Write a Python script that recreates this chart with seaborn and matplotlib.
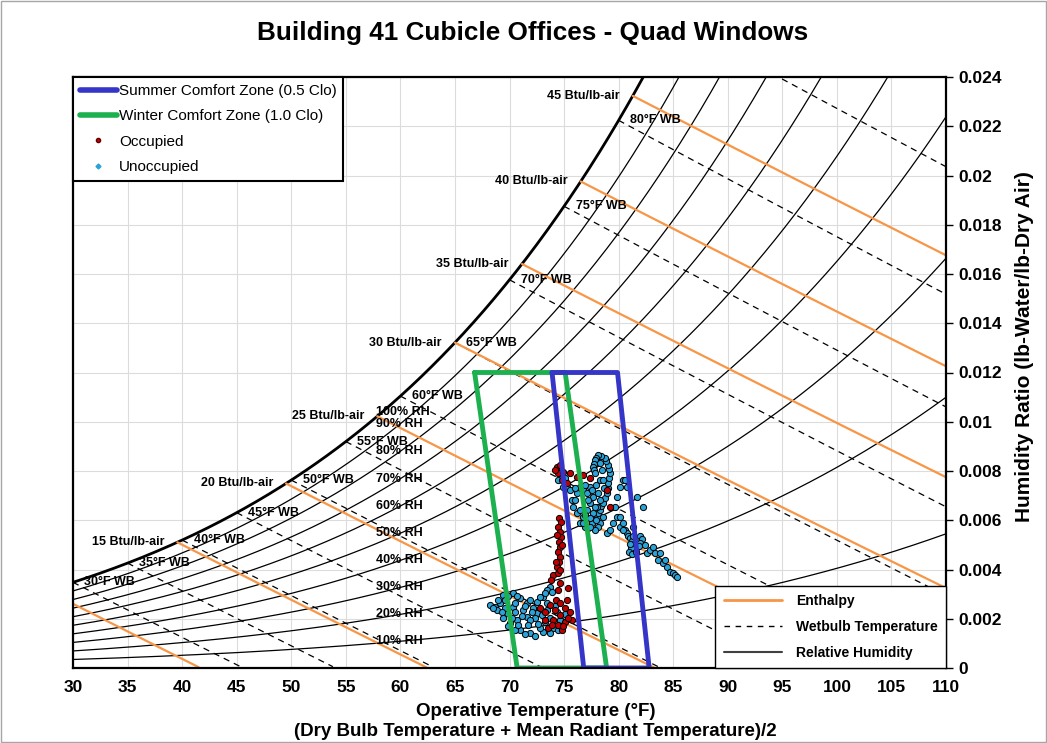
import numpy as np
import pandas as pd
import matplotlib
matplotlib.use("Agg")
import matplotlib.pyplot as plt
import seaborn as sns
from matplotlib.lines import Line2D
from matplotlib.patches import Rectangle
from matplotlib.ticker import FuncFormatter, MultipleLocator

# Psychrometric line levels
rh_levels = [10, 20, 30, 40, 50, 60, 70, 80, 90, 100]
wb_levels = [30, 35, 40, 45, 50, 55, 60, 65, 70, 75, 80, 85]
wb_labelled = [30, 35, 40, 45, 50, 55, 60, 65, 70, 75, 80]
enthalpy_levels = [10, 15, 20, 25, 30, 35, 40, 45]
enthalpy_labelled = [15, 20, 25, 30, 35, 40, 45]

# Comfort zones (operative temp F, humidity ratio)
summer_t = [73.9, 79.9, 82.8, 76.8, 73.9]
summer_w = [0.012, 0.012, 0.0, 0.0, 0.012]
winter_t = [66.8, 75.1, 78.9, 70.7, 66.8]
winter_w = [0.012, 0.012, 0.0, 0.0, 0.012]

occupied_t = [72.80, 73.26, 73.71, 74.17, 74.63, 75.09, 75.54, 73.99, 74.45, 73.53,
              75.09, 75.73, 74.81, 74.26, 74.63, 75.27, 73.26, 73.90, 75.36, 74.90,
              73.99, 74.45, 74.63, 74.45, 75.36, 73.80,
              74.54, 74.72, 74.45, 74.63, 74.72, 74.54, 74.63, 74.45, 74.63, 74.54,
              74.35, 74.63, 74.26, 74.81, 74.35,
              74.35, 74.63, 74.45, 74.90, 75.54, 76.19, 76.74, 77.38, 74.81, 75.27,
              78.93, 79.21, 74.17]
occupied_w = [0.00244, 0.00227, 0.00256, 0.00236, 0.00215, 0.00244, 0.00227, 0.00195, 0.00175, 0.00162,
              0.00187, 0.00195, 0.00154, 0.00276, 0.00264, 0.00276, 0.00195, 0.00175, 0.00203, 0.00171,
              0.00378, 0.00386, 0.00345, 0.00317, 0.00325, 0.00357,
              0.00609, 0.00593, 0.00573, 0.00552, 0.00532, 0.00512, 0.00491, 0.00471, 0.00451, 0.00430,
              0.00410, 0.00398, 0.00430, 0.00500, 0.00540,
              0.00816, 0.00824, 0.00792, 0.00796, 0.00792, 0.00776, 0.00784, 0.00772, 0.00763, 0.00751,
              0.00723, 0.00654, 0.00804]

unoccupied_t = [68.67, 69.40, 70.32, 70.96, 71.60, 72.52, 73.07, 73.71, 73.44, 69.77,
                70.05, 70.96, 71.88, 73.07, 73.99, 70.69, 71.60, 72.52, 73.44, 74.35,
                69.13, 68.86, 70.32, 71.24, 72.15, 69.59, 70.50, 71.42, 72.34, 73.26,
                72.80, 74.63, 75.09, 71.88, 69.40,
                68.95, 69.86, 70.69, 71.88, 72.80, 73.26, 73.90, 69.59, 70.50, 71.15,
                70.23, 69.86, 70.50, 71.42, 72.34, 73.71, 74.45, 72.62, 71.70, 70.78,
                73.71, 72.98, 72.06, 68.21, 68.49, 69.31, 73.44, 74.17,
                78.02, 78.11, 78.29, 78.38, 78.57, 78.75, 78.93, 79.03, 79.03, 79.12,
                79.21, 79.12, 79.03, 78.84, 78.75, 78.38, 78.11, 77.93, 77.84, 77.74,
                77.65, 77.74, 77.84, 78.29, 78.11, 77.84, 78.57,
                80.58, 80.77, 80.86, 81.04, 81.22, 81.41, 81.59, 81.78, 81.96, 82.14,
                81.96, 81.68, 81.41, 81.13, 80.95, 81.22, 81.59, 81.04, 81.31, 81.87,
                82.60, 82.87, 83.15, 83.33, 83.61, 83.79, 84.07, 84.25, 84.43, 84.71,
                84.98, 85.17, 85.35, 82.42,
                78.93, 79.21, 79.48, 79.85, 80.13, 80.40, 80.13, 80.40, 79.67, 79.85,
                80.13, 80.40, 80.58, 80.77, 82.23, 81.68, 81.31,
                74.63, 74.90, 75.27, 75.54, 76.19, 76.46, 76.74, 77.10, 77.38, 77.65,
                77.38, 77.10, 76.74, 76.46, 76.92, 75.82, 76.19, 75.73, 78.11, 78.29,
                78.02, 77.65, 77.56, 77.19, 77.84, 76.46, 76.74, 77.38, 74.45, 75.09,
                76.00, 76.92, 77.56, 77.93, 78.29, 78.48, 78.29, 76.00, 77.19, 76.92,
                77.93, 77.38, 78.66, 78.57]
unoccupied_w = [0.00248, 0.00296, 0.00305, 0.00284, 0.00264, 0.00268, 0.00288, 0.00329, 0.00317, 0.00223,
                0.00183, 0.00154, 0.00142, 0.00146, 0.00162, 0.00195, 0.00207, 0.00223, 0.00236, 0.00227,
                0.00264, 0.00236, 0.00248, 0.00236, 0.00244, 0.00276, 0.00264, 0.00252, 0.00203, 0.00187,
                0.00162, 0.00195, 0.00219, 0.00195, 0.00203,
                0.00276, 0.00292, 0.00292, 0.00276, 0.00288, 0.00305, 0.00309, 0.00244, 0.00227, 0.00211,
                0.00203, 0.00171, 0.00154, 0.00138, 0.00130, 0.00142, 0.00154, 0.00179, 0.00175, 0.00175,
                0.00203, 0.00215, 0.00227, 0.00256, 0.00244, 0.00227, 0.00264, 0.00252,
                0.00613, 0.00629, 0.00642, 0.00658, 0.00670, 0.00690, 0.00711, 0.00731, 0.00751, 0.00772,
                0.00792, 0.00808, 0.00824, 0.00841, 0.00853, 0.00861, 0.00865, 0.00853, 0.00845, 0.00828,
                0.00816, 0.00804, 0.00792, 0.00589, 0.00573, 0.00560, 0.00613,
                0.00560, 0.00548, 0.00536, 0.00528, 0.00516, 0.00504, 0.00516, 0.00528, 0.00536, 0.00524,
                0.00508, 0.00491, 0.00479, 0.00487, 0.00471, 0.00463, 0.00471, 0.00504, 0.00536, 0.00495,
                0.00467, 0.00479, 0.00491, 0.00467, 0.00439, 0.00467, 0.00426, 0.00439, 0.00410, 0.00390,
                0.00386, 0.00378, 0.00370, 0.00500,
                0.00548, 0.00560, 0.00589, 0.00613, 0.00573, 0.00560, 0.00613, 0.00589, 0.00654, 0.00694,
                0.00735, 0.00763, 0.00763, 0.00735, 0.00654, 0.00694, 0.00573,
                0.00792, 0.00735, 0.00735, 0.00723, 0.00711, 0.00735, 0.00723, 0.00711, 0.00735, 0.00694,
                0.00670, 0.00642, 0.00613, 0.00589, 0.00573, 0.00654, 0.00629, 0.00682, 0.00711, 0.00682,
                0.00654, 0.00629, 0.00589, 0.00569, 0.00654, 0.00642, 0.00589, 0.00573, 0.00763, 0.00772,
                0.00731, 0.00743, 0.00723, 0.00743, 0.00763, 0.00804, 0.00832, 0.00682, 0.00682, 0.00621,
                0.00601, 0.00609, 0.00731, 0.00763]

BLUE = "#3535c8"
GREEN = "#1db04f"
ORANGE = "#f79646"
OCC = "#c00000"
UNOCC = "#2aa3d8"

P_ATM = 14.696


# Psychrometric relations (ASHRAE, IP units)
def sat_pressure(t_f):
    T = np.asarray(t_f, dtype=float) + 459.67
    return np.exp(-1.0440397e4 / T - 1.1294650e1 - 2.7022355e-2 * T
                  + 1.2890360e-5 * T ** 2 - 2.4780681e-9 * T ** 3 + 6.5459673 * np.log(T))


def hum_ratio(t_f, rh=1.0):
    pw = rh * sat_pressure(t_f)
    return 0.621945 * pw / (P_ATM - pw)


def wb_line(t_f, twb):
    ws = hum_ratio(twb)
    return ((1093 - 0.556 * twb) * ws - 0.240 * (t_f - twb)) / (1093 + 0.444 * t_f - twb)


def enthalpy_line(t_f, h):
    return (h - 0.240 * t_f) / (1061 + 0.444 * t_f)


def enthalpy_sat_temp(h):
    tt = np.linspace(0, 130, 6001)
    hh = 0.240 * tt + hum_ratio(tt) * (1061 + 0.444 * tt)
    return float(np.interp(h, hh, tt))


sns.set_theme(style="whitegrid", rc={"grid.color": "#dcdcdc", "grid.linewidth": 0.8,
                                     "axes.edgecolor": "black", "axes.linewidth": 1.5,
                                     "text.color": "black", "xtick.color": "black",
                                     "ytick.color": "black", "axes.labelcolor": "black"})
plt.rcParams['font.family'] = ['Liberation Sans', 'DejaVu Sans']

fig = plt.figure(figsize=(10.47, 7.43), dpi=100)
ax = fig.add_axes([73 / 1047, 75 / 743, 873 / 1047, 591 / 743])

t = np.linspace(30, 110, 500)

# relative humidity lines
for rh in rh_levels:
    ax.plot(t, hum_ratio(t, rh / 100), color="black",
            lw=2.0 if rh == 100 else 0.9, zorder=2)

# wet bulb lines
for twb in wb_levels:
    tl = np.linspace(twb, 110, 300)
    w = wb_line(tl, twb)
    m = w >= 0
    ax.plot(tl[m], w[m], color="black", lw=0.9, ls=(0, (5, 4)), zorder=2)

# enthalpy lines
for h in enthalpy_levels:
    t0 = max(enthalpy_sat_temp(h), 30)
    tl = np.linspace(t0, 110, 300)
    w = enthalpy_line(tl, h)
    m = w >= 0
    ax.plot(tl[m], w[m], color=ORANGE, lw=1.6, zorder=2)

# labels
lab_kw = dict(fontsize=9, fontweight="bold", color="black", zorder=3)
for twb in wb_labelled:
    ax.text(twb + 1.05, hum_ratio(twb), f"{twb}\u00b0F WB", ha="left", va="center", **lab_kw)
for h in enthalpy_labelled:
    ts = enthalpy_sat_temp(h)
    ax.text(ts - 1.2, hum_ratio(ts), f"{h} Btu/lb-air", ha="right", va="center", **lab_kw)
for rh in rh_levels:
    ty = 58.3 if rh == 100 else 60
    ax.text(57.8, hum_ratio(ty, rh / 100), f"{rh}% RH", ha="left", va="center", **lab_kw)

# measured data
occ = pd.DataFrame({"t": occupied_t, "w": occupied_w})
unocc = pd.DataFrame({"t": unoccupied_t, "w": unoccupied_w})
sns.scatterplot(data=unocc, x="t", y="w", ax=ax, color=UNOCC, s=20,
                edgecolor="black", linewidth=0.7, zorder=4, legend=False)
sns.scatterplot(data=occ, x="t", y="w", ax=ax, color=OCC, s=20,
                edgecolor="black", linewidth=0.7, zorder=4, legend=False)

# comfort zones
sns.lineplot(x=winter_t, y=winter_w, ax=ax, sort=False, estimator=None,
             color=GREEN, lw=3.5, zorder=5)
sns.lineplot(x=summer_t, y=summer_w, ax=ax, sort=False, estimator=None,
             color=BLUE, lw=3.5, zorder=5)

ax.set_xlim(30, 110)
ax.set_ylim(0, 0.024)
ax.xaxis.set_major_locator(MultipleLocator(5))
ax.yaxis.set_major_locator(MultipleLocator(0.002))
ax.yaxis.tick_right()
ax.yaxis.set_major_formatter(FuncFormatter(lambda v, _: f"{v:g}"))
ax.tick_params(axis="both", length=5, width=1, color="black", direction="out",
               labelsize=12.5, pad=4)
for lab in ax.get_xticklabels() + ax.get_yticklabels():
    lab.set_fontweight("bold")
ax.set_xlabel("")
ax.set_ylabel("")
ax.grid(True, zorder=0)
for s in ax.spines.values():
    s.set_color("black")
    s.set_linewidth(1.6)
    s.set_zorder(6)

# legends
h1 = [Line2D([], [], color=BLUE, lw=4),
      Line2D([], [], color=GREEN, lw=4),
      Line2D([], [], ls="", marker="o", ms=3, mfc=OCC, mec="#600000"),
      Line2D([], [], ls="", marker="D", ms=2.5, mfc=UNOCC, mec=UNOCC)]
leg1 = ax.legend(h1, ["Summer Comfort Zone (0.5 Clo)", "Winter Comfort Zone (1.0 Clo)",
                      "Occupied", "Unoccupied"],
                 loc="upper left", bbox_to_anchor=(0, 1), borderaxespad=0, fontsize=11,
                 frameon=True, fancybox=False, edgecolor="black", framealpha=1,
                 handlelength=2.4, handletextpad=0.15, labelspacing=0.75, borderpad=0.45)
leg1.get_frame().set_linewidth(1.5)
leg1.set_zorder(10)
ax.add_artist(leg1)

h2 = [Line2D([], [], color=ORANGE, lw=2),
      Line2D([], [], color="black", lw=1, ls=(0, (4, 4))),
      Line2D([], [], color="#404040", lw=1.5)]
leg2 = ax.legend(h2, ["Enthalpy", "Wetbulb Temperature", "Relative Humidity"],
                 loc="lower right", borderaxespad=0, frameon=True, fancybox=False,
                 edgecolor="black", framealpha=1, handlelength=4.2, handletextpad=1.0,
                 labelspacing=0.85, borderpad=0.6, prop={"weight": "bold", "size": 10})
leg2.get_frame().set_linewidth(1.0)
leg2.set_zorder(10)

# titles and axis labels
fig.text(533 / 1047, 1 - 33 / 743, "Building 41 Cubicle Offices - Quad Windows",
         ha="center", va="center", fontsize=18.8, fontweight="bold")
fig.text(536 / 1047, 1 - 711 / 743, "Operative Temperature (\u00b0F)",
         ha="center", va="center", fontsize=13.5, fontweight="bold")
fig.text(535 / 1047, 1 - 732 / 743, "(Dry Bulb Temperature + Mean Radiant Temperature)/2",
         ha="center", va="center", fontsize=13.5, fontweight="bold")
fig.text(1025 / 1047, 1 - 347 / 743, "Humidity Ratio (lb-Water/lb-Dry Air)",
         ha="center", va="center", rotation=90, fontsize=15, fontweight="bold")

fig.patches.append(Rectangle((0.001, 0.001), 0.998, 0.998, transform=fig.transFigure,
                             fill=False, edgecolor="#a6a6a6", lw=1))

fig.savefig("out.png", dpi=100)
